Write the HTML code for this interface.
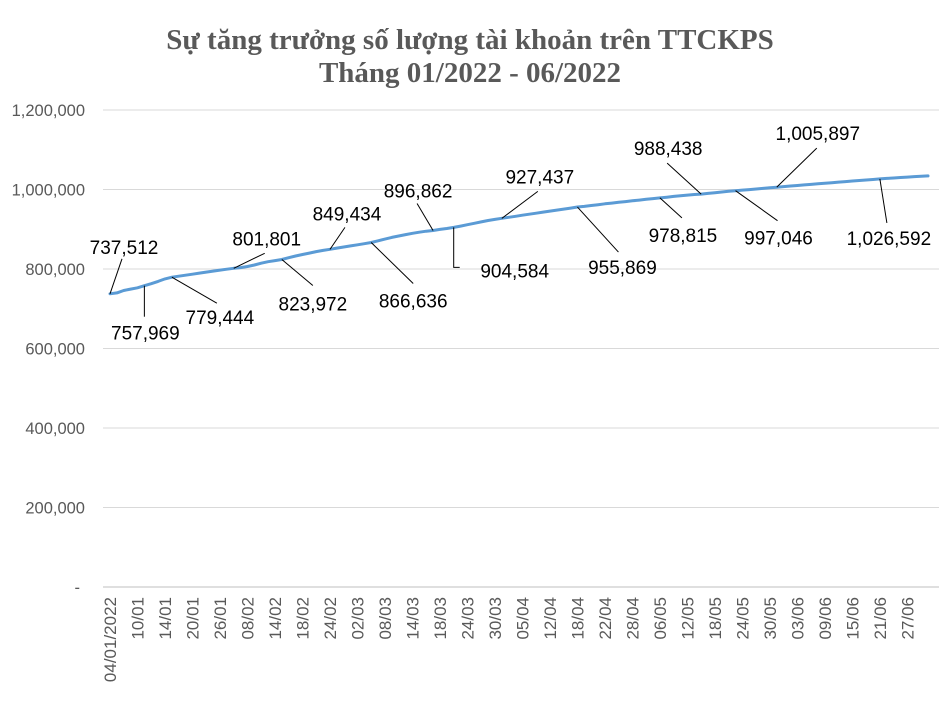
<!DOCTYPE html>
<html><head><meta charset="utf-8">
<style>
html,body{margin:0;padding:0;background:#fff;}
svg{display:block;}
</style></head>
<body>
<svg id="chart" width="939" height="705" viewBox="0 0 939 705" xmlns="http://www.w3.org/2000/svg">
<rect width="939" height="705" fill="#fff"/>
<g font-family="'Liberation Serif', serif" font-weight="bold" font-size="29" fill="#595959" text-anchor="middle">
<text x="470" y="49">Sự tăng trưởng số lượng tài khoản trên TTCKPS</text>
<text x="470" y="82">Tháng 01/2022 - 06/2022</text>
</g>
<g id="grid"></g>
<g id="yticks"></g>
<g id="xticks"></g>
<g id="series"></g>
<g id="annots"></g>
</svg>
<script>
const yTicks = [0, 200000, 400000, 600000, 800000, 1000000, 1200000];
const yTickLabels = ["-", "200,000", "400,000", "600,000", "800,000", "1,000,000", "1,200,000"];
const xLabels = ["04/01/2022","10/01","14/01","20/01","26/01","08/02","14/02","18/02","24/02","02/03","08/03","14/03","18/03","24/03","30/03","05/04","12/04","18/04","22/04","28/04","06/05","12/05","18/05","24/05","30/05","03/06","09/06","15/06","21/06","27/06"];
const accounts = [
737512,739800,745900,749500,752800,757969,
763100,768900,775200,779444,
782000,784500,787000,789600,792200,794800,797300,799600,801801,
803400,806200,810000,814500,818300,821100,823972,
828400,832600,836500,840100,843800,846700,849434,
852600,855300,858000,860800,863700,866636,
871000,875200,879400,883100,886600,889800,892600,895000,896862,
899500,902000,904584,
908000,911500,915000,918500,922000,924800,927437,
930000,932700,935300,937900,940500,943100,945700,948200,950800,953300,955869,
957600,959700,961800,963900,965800,967700,969600,971500,973400,975300,977100,978815,
980700,982600,984400,986000,987300,988438,
990200,992000,993800,995500,997046,
998400,999800,1001200,1002700,1004300,1005897,
1007300,1008700,1010100,1011500,1012900,1014300,1015700,1017100,1018500,1019900,1021300,1022600,1023900,1025200,1026592,
1027800,1029000,1030200,1031300,1032400,1033400,1034300];
const labelIndices = [0,5,9,18,25,32,38,47,50,57,68,80,86,91,97,112];

const NS = "http://www.w3.org/2000/svg";
const X0 = 110, X1 = 928, Y0 = 587, Y1 = 110, YMAX = 1200000;
function xPos(i){ return X0 + i * (X1 - X0) / (accounts.length - 1); }
function yPos(v){ return Y0 - v / YMAX * (Y0 - Y1); }
function mk(tag, attrs, parent){ const e = document.createElementNS(NS, tag); for (const k in attrs) e.setAttribute(k, attrs[k]); parent.appendChild(e); return e; }
function fmt(v){ return v.toString().replace(/\B(?=(\d{3})+(?!\d))/g, ","); }

const grid = document.getElementById('grid');
const yt = document.getElementById('yticks');
yTicks.forEach((v, i) => {
  const y = yPos(v);
  const l = mk('line', {x1: 103, x2: 939, y1: y, y2: y, stroke: v === 0 ? '#bfbfbf' : '#d9d9d9', 'stroke-width': 1}, grid);
  
  
  const t = mk('text', {x: v === 0 ? 80 : 85, y: y + 6, 'text-anchor': 'end', 'font-family': "'Liberation Sans', sans-serif", 'font-size': 16.5, fill: '#595959'}, yt);
  t.textContent = yTickLabels[i];
  
  
});

const xt = document.getElementById('xticks');
xLabels.forEach((lab, k) => {
  const x = xPos(k * 4);
  const t = mk('text', {transform: `translate(${x + 6},597) rotate(-90)`, 'text-anchor': 'end', 'font-family': "'Liberation Sans', sans-serif", 'font-size': 17, fill: '#595959'}, xt);
  t.textContent = lab;
  
  
});

const series = document.getElementById('series');
const pts = accounts.map((v, i) => xPos(i).toFixed(1) + ',' + yPos(v).toFixed(1)).join(' ');
const pl = mk('polyline', {points: pts, fill: 'none', stroke: '#5b9bd5', 'stroke-width': 3, 'stroke-linejoin': 'round', 'stroke-linecap': 'round'}, series);



const labelLayout = [[12,-35,14,-47,0],[0,31,1,47,0],[45,26,48,40,0],[31,-15,33,-30,0],[31,26,31,44,0],[15,-22,17,-36,0],[42,41,42,58,0],[-16,-27,-15,-40,0],[0,40,61,43,6],[36,-27,38,-42,0],[41,45,45,60,0],[22,20,23,37,0],[-34,-31,-33,-46,0],[42,30,43,47,0],[40,-39,41,-54,0],[7,44,9,59,0]];
const an = document.getElementById('annots');
labelIndices.forEach((idx, k) => {
  const px = xPos(idx), py = yPos(accounts[idx]);
  const L = labelLayout[k];
  let d = `M${px},${py} L${px + L[0]},${py + L[1]}`;
  if (L[4]) d += ` L${px + L[0] + L[4]},${py + L[1]}`;
  const p = mk('path', {d: d, fill: 'none', stroke: '#000', 'stroke-width': 1}, an);
  
  
  const t = mk('text', {x: px + L[2], y: py + L[3] + 7, 'text-anchor': 'middle', 'font-family': "'Liberation Sans', sans-serif", 'font-size': 19, fill: '#000'}, an);
  t.textContent = fmt(accounts[idx]);
  
  
});
</script>
</body></html>
